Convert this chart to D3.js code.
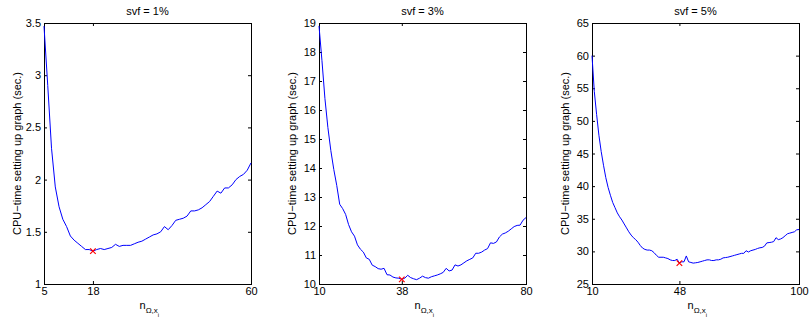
<!DOCTYPE html>
<html>
<head>
<meta charset="utf-8">
<script src="https://d3js.org/d3.v7.min.js"></script>
<style>
  body { margin: 0; background: #fff; }
  text { font-family: "Liberation Sans", Arial, sans-serif; fill: #000; }
</style>
</head>
<body>
<div id="chart"></div>
<script>
// ---- data ----
var titles = ["svf = 1%", "svf = 3%", "svf = 5%"];

var n1 = d3.range(5, 61);
var t1 = [3.47, 2.90, 2.30, 1.93, 1.74, 1.62, 1.55, 1.46, 1.42, 1.39,
          1.36, 1.33, 1.33, 1.315, 1.33, 1.34, 1.33, 1.34, 1.35, 1.38,
          1.36, 1.37, 1.37, 1.37, 1.385, 1.40, 1.41, 1.43, 1.45, 1.47,
          1.48, 1.50, 1.55, 1.52, 1.56, 1.61, 1.62, 1.63, 1.65, 1.70,
          1.70, 1.71, 1.73, 1.76, 1.79, 1.84, 1.89, 1.87, 1.92, 1.92,
          1.95, 2.00, 2.03, 2.05, 2.09, 2.16];

var n2 = d3.range(10, 81);
var t2 = [18.9, 17.7, 16.4, 15.4, 14.6, 13.95, 13.4, 12.75, 12.6, 12.4,
          12.05, 11.8, 11.65, 11.35, 11.2, 11.1, 10.9, 10.85, 10.65, 10.6,
          10.53, 10.51, 10.54, 10.32, 10.31, 10.24, 10.21, 10.2, 10.16, 10.2,
          10.3, 10.22, 10.18, 10.15, 10.2, 10.27, 10.22, 10.2, 10.25, 10.28,
          10.31, 10.35, 10.4, 10.54, 10.45, 10.48, 10.66, 10.62, 10.66, 10.73,
          10.8, 10.85, 10.9, 11.06, 11.06, 11.1, 11.17, 11.22, 11.42, 11.4,
          11.45, 11.62, 11.72, 11.76, 11.82, 11.9, 11.98, 12.02, 12.03, 12.2,
          12.29];

var n3 = d3.range(10, 101);
var t3 = [60.0, 54.5, 51.0, 47.8, 45.3, 43.2, 41.3, 39.8, 38.6, 37.5,
          36.7, 35.9, 35.3, 34.8, 34.2, 33.6, 33.0, 32.5, 32.1, 31.8,
          31.4, 30.9, 30.5, 30.3, 30.2, 30.2, 30.1, 29.8, 29.4, 29.1,
          29.1, 29.1, 29.0, 28.9, 28.7, 28.6, 28.6, 28.8, 28.2, 28.4,
          28.4, 29.3, 28.4, 28.3, 28.2, 28.25, 28.3, 28.4, 28.5, 28.6,
          28.7, 28.7, 28.6, 28.6, 28.7, 28.7, 28.8, 29.0, 29.05, 29.1,
          29.2, 29.3, 29.4, 29.5, 29.6, 29.7, 29.7, 30.1, 29.9, 30.1,
          30.2, 30.3, 30.45, 30.55, 30.6, 30.8, 31.3, 31.35, 31.4, 31.5,
          32.1, 31.8, 31.9, 32.1, 32.4, 32.7, 32.8, 32.9, 33.0, 33.3,
          33.35];

var xTicks1 = [5, 18, 60], yTicks1 = [1, 1.5, 2, 2.5, 3, 3.5];
var xTicks2 = [10, 38, 80], yTicks2 = [10, 11, 12, 13, 14, 15, 16, 17, 18, 19];
var xTicks3 = [10, 48, 100], yTicks3 = [25, 30, 35, 40, 45, 50, 55, 60, 65];

var best1 = [18, 1.315], best2 = [38, 10.16], best3 = [48, 28.2];

// ---- layout ----
var width = 809, height = 324;
var plotTop = 23, plotBottom = 284, pw = 207;
var lefts = [44, 319, 592];

var panels = [
  {title: titles[0], n: n1, t: t1, xt: xTicks1, yt: yTicks1, best: best1},
  {title: titles[1], n: n2, t: t2, xt: xTicks2, yt: yTicks2, best: best2},
  {title: titles[2], n: n3, t: t3, xt: xTicks3, yt: yTicks3, best: best3}
];

var svg = d3.select('#chart').append('svg')
    .attr('width', width)
    .attr('height', height);

panels.forEach(function(p, i) {
  var x = d3.scaleLinear()
      .domain([p.xt[0], p.xt[p.xt.length - 1]])
      .range([lefts[i], lefts[i] + pw]);
  var y = d3.scaleLinear()
      .domain([p.yt[0], p.yt[p.yt.length - 1]])
      .range([plotBottom, plotTop]);

  var g = svg.append('g');

  // axes, MATLAB style: ticks pointing in
  g.append('g')
      .attr('transform', 'translate(0,' + plotBottom + ')')
      .call(d3.axisBottom(x).tickValues(p.xt).tickSize(-3).tickPadding(3)
            .tickFormat(function(d) { return String(d); }));
  g.append('g')
      .attr('transform', 'translate(0,' + plotTop + ')')
      .call(d3.axisTop(x).tickValues(p.xt).tickSize(-3).tickFormat(''));
  g.append('g')
      .attr('transform', 'translate(' + lefts[i] + ',0)')
      .call(d3.axisLeft(y).tickValues(p.yt).tickSize(-3).tickPadding(3)
            .tickFormat(function(d) { return String(d); }));
  g.append('g')
      .attr('transform', 'translate(' + (lefts[i] + pw) + ',0)')
      .call(d3.axisRight(y).tickValues(p.yt).tickSize(-3).tickFormat(''));

  g.selectAll('.domain').remove();
  g.selectAll('.tick line').attr('stroke', '#000');
  g.selectAll('.tick text')
      .style('font-family', '"Liberation Sans", Arial, sans-serif')
      .style('font-size', '11px')
      .attr('fill', '#000');

  // box
  g.append('rect')
      .attr('x', lefts[i] + 0.5)
      .attr('y', plotTop + 0.5)
      .attr('width', pw)
      .attr('height', plotBottom - plotTop)
      .attr('fill', 'none')
      .attr('stroke', '#000')
      .attr('stroke-width', 1);

  // curve
  var line = d3.line()
      .x(function(d, k) { return x(p.n[k]); })
      .y(function(d) { return y(d); });
  g.append('path')
      .attr('d', line(p.t))
      .attr('fill', 'none')
      .attr('stroke', '#0000ff')
      .attr('stroke-width', 1);

  // minimum marker
  var sym = d3.symbolX || d3.symbolCross;
  g.append('path')
      .attr('d', d3.symbol().type(sym).size(22)())
      .attr('transform', 'translate(' + x(p.best[0]) + ',' + y(p.best[1]) + ')')
      .attr('fill', 'none')
      .attr('stroke', '#ff0000')
      .attr('stroke-width', 1.2);

  // title
  var cx = lefts[i] + pw / 2;
  g.append('text')
      .attr('x', cx)
      .attr('y', 15)
      .attr('text-anchor', 'middle')
      .style('font-size', '11px')
      .text(p.title);

  // y label
  g.append('text')
      .attr('transform', 'translate(' + (lefts[i] - 23) + ',' + ((plotTop + plotBottom) / 2) + ') rotate(-90)')
      .attr('text-anchor', 'middle')
      .style('font-size', '11px')
      .text('CPU\u2212time setting up graph (sec.)');

  // x label n_{Omega,x_i}
  var xl = g.append('text')
      .attr('x', cx - 8)
      .attr('y', 309)
      .style('font-size', '11px');
  xl.append('tspan').text('n');
  xl.append('tspan').attr('dy', 4).style('font-size', '8px').text('\u03A9,x');
  xl.append('tspan').attr('dy', 4).style('font-size', '6px').text('i');
});
</script>
</body>
</html>
